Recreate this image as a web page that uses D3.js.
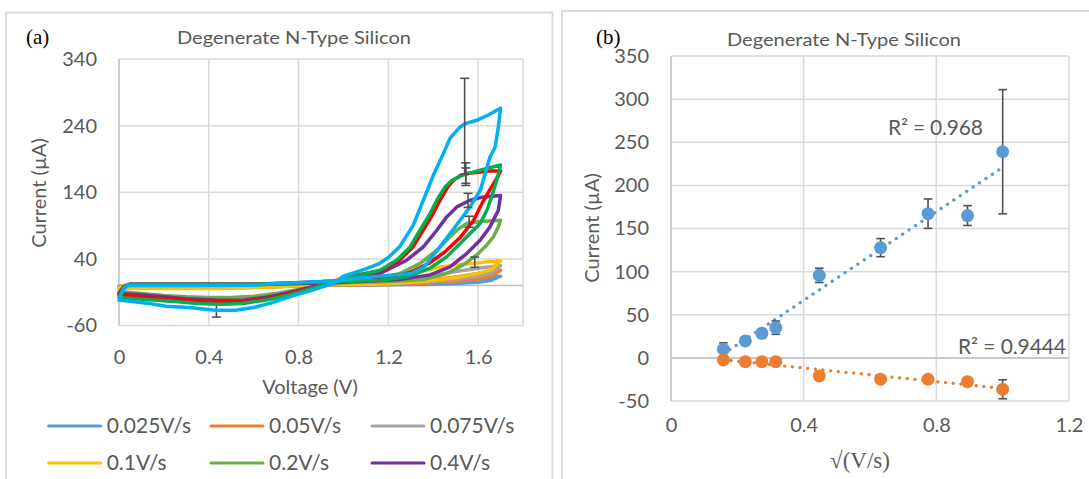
<!DOCTYPE html>
<html>
<head>
<meta charset="utf-8">
<script src="https://cdn.jsdelivr.net/npm/d3@7"></script>
<style>
  body { margin: 0; background: #fff; }
  svg { display: block; }
  text { font-family: Lato, "Open Sans", "Noto Sans", sans-serif; }
</style>
</head>
<body>
<svg id="chart" width="1089" height="479"></svg>
<script>
// ---------- data ----------
const scanRates = ["0.025V/s", "0.05V/s", "0.075V/s", "0.1V/s", "0.2V/s", "0.4V/s", "0.6V/s", "0.8V/s", "1V/s"];
const sqrtRate = [0.158, 0.224, 0.274, 0.316, 0.447, 0.632, 0.775, 0.894, 1.0];
const oxPeak = [10, 19.6, 28.5, 35, 95.7, 127.8, 167.2, 165, 239];
const oxErr = [7.5, 4, 5, 7.7, 8.3, 10.5, 17, 11.5, 72];
const redPeak = [-2.4, -4.4, -4.4, -4.4, -21, -24.8, -24.8, -27.6, -36.4];
const redErr = [1, 1, 1, 1.5, 2, 2, 2, 2, 11];
const oxPeakVoltage = [1.6, 1.6, 1.59, 1.585, 1.56, 1.555, 1.545, 1.545, 1.54];
const redPeakVoltage = 0.434;
const oxR2 = "R\u00B2 = 0.968";
const redR2 = "R\u00B2 = 0.9444";

const voltageTicks = [0, 0.4, 0.8, 1.2, 1.6];
const currentTicksA = [-60, 40, 140, 240, 340];
const rateTicks = [0, 0.4, 0.8, 1.2];
const currentTicksB = [-50, 0, 50, 100, 150, 200, 250, 300, 350];

// cyclic voltammograms: [voltage V, current uA], forward sweep then reverse sweep
const cv0025 = [[0,-1],[0.03,0],[0.6,0],[0.9,0.5],[1.1,0.5],[1.2,1],[1.3,1.5],[1.4,2],[1.5,3],[1.6,5],[1.66,8],[1.7,14],
  [1.65,12],[1.6,10.5],[1.5,7],[1.4,4.5],[1.3,3],[1.2,2],[1.1,1.5],[1.0,1],[0.9,0],[0.7,-0.5],[0.4,-1],[0.1,-1],[0,-1]];
const cv005 = [[0,-2],[0.03,0],[0.6,0],[0.9,0.5],[1.1,1],[1.2,1.5],[1.3,2.5],[1.4,4],[1.5,6],[1.6,10],[1.66,14],[1.7,23],
  [1.65,20],[1.6,18],[1.5,13],[1.4,9],[1.3,6],[1.2,4],[1.1,2.5],[1.0,1.5],[0.9,0],[0.7,-1.5],[0.45,-3],[0.2,-2.5],[0,-2]];
const cv0075 = [[0,-3],[0.03,0],[0.6,0],[0.9,1],[1.1,1.5],[1.2,2.5],[1.3,4],[1.4,6],[1.5,9],[1.6,14],[1.66,19],[1.7,30],
  [1.65,28],[1.6,26],[1.5,21],[1.4,15],[1.3,10],[1.2,6],[1.1,4],[1.0,2],[0.9,0.5],[0.7,-2],[0.45,-4],[0.2,-3.5],[0,-3]];
const cv01 = [[0,-4],[0.02,0],[0.6,0],[0.9,1],[1.1,2],[1.2,3],[1.3,5],[1.4,8],[1.5,12],[1.6,18],[1.66,24],[1.7,37],
  [1.65,36],[1.6,34],[1.5,31],[1.42,27],[1.35,21],[1.3,16],[1.2,9],[1.1,6],[1.0,3],[0.9,1],[0.7,-2],[0.45,-4.5],[0.2,-4.5],[0,-4]];
const cv02 = [[0,-9],[0.02,-2],[0.05,1],[0.6,1],[0.8,3],[1.0,5],[1.2,6],[1.356,9],[1.46,18],[1.534,31],[1.594,46],[1.639,61],[1.668,73],[1.69,88],[1.7,98],
  [1.609,96],[1.549,93],[1.505,83],[1.46,68],[1.416,53],[1.341,33],[1.252,18],[1.15,10],[1.0,4],[0.9,0],[0.8,-6],[0.7,-12],[0.6,-16],[0.5,-18],[0.4,-18],[0.3,-17],[0.2,-15],[0.1,-12],[0,-9]];
const cv04 = [[0,-12],[0.02,-2],[0.05,2],[0.6,2],[0.8,3],[1.0,5],[1.15,7],[1.252,9],[1.386,16],[1.475,28],[1.549,48],[1.609,68],[1.653,88],[1.69,113],[1.7,135],
  [1.624,133],[1.564,128],[1.505,118],[1.46,103],[1.416,83],[1.356,58],[1.282,38],[1.163,18],[1.05,10],[0.95,4],[0.85,-3],[0.75,-11],[0.65,-18],[0.55,-22],[0.45,-22],[0.3,-20],[0.2,-17],[0.1,-14],[0,-12]];
const cv06 = [[0,-14],[0.02,-2],[0.05,2],[0.6,2],[0.8,4],[1.0,7],[1.15,11],[1.25,15],[1.3,20],[1.38,33],[1.45,50],[1.52,72],[1.58,98],[1.62,125],[1.66,148],[1.69,165],[1.7,172],
  [1.65,172],[1.6,170],[1.55,168],[1.52,165],[1.49,158],[1.465,148],[1.43,128],[1.4,108],[1.355,83],[1.31,58],[1.25,38],[1.175,23],[1.05,15],[0.95,6],[0.85,-4],[0.75,-13],[0.65,-20],[0.55,-24],[0.45,-24],[0.3,-22],[0.2,-20],[0.1,-17],[0,-14]];
const cv08 = [[0,-18],[0.02,-3],[0.05,2],[0.6,2],[0.8,4],[1.0,6],[1.163,8],[1.282,13],[1.386,26],[1.46,43],[1.52,63],[1.564,78],[1.609,93],[1.639,113],[1.66,133],[1.683,158],[1.7,181],
  [1.609,173],[1.534,166],[1.483,158],[1.453,148],[1.416,128],[1.386,108],[1.341,83],[1.297,58],[1.237,38],[1.163,23],[1.05,14],[0.95,5],[0.85,-5],[0.75,-15],[0.65,-22],[0.55,-27],[0.45,-28],[0.35,-27],[0.25,-24],[0.12,-21],[0,-18]];
const cv10 = [[0,-22],[0.02,-5],[0.04,0],[0.3,0],[0.6,0.5],[0.7,3],[0.9,6],[1.0,9],[1.1,12],[1.2,15],[1.3,18],[1.36,28],[1.43,58],[1.475,78],[1.52,98],[1.564,118],[1.61,143],[1.64,178],[1.653,193],[1.676,208],[1.69,238],[1.7,266],
  [1.645,256],[1.594,248],[1.542,243],[1.52,238],[1.475,221],[1.445,198],[1.40,165],[1.356,128],[1.31,90],[1.25,58],[1.2,42],[1.16,33],[1.1,25],[1.0,14],[0.96,4],[0.87,-6],[0.77,-16],[0.68,-26],[0.6,-33],[0.52,-37],[0.43,-37],[0.31,-33],[0.21,-31],[0.135,-27],[0.03,-23],[0,-22]];

const cvCurves = [cv0025, cv005, cv0075, cv01, cv02, cv04, cv06, cv08, cv10];

// ---------- styling ----------
const seriesColors = ["#5B9BD5", "#ED7D31", "#A5A5A5", "#FFC000", "#70AD47", "#7030A0", "#FF0000", "#00B050", "#00B0F0"];
const textGray = "#595959";
const gridColor = "#d9d9d9";
const axisColor = "#bfbfbf";
const oxColor = "#5B9BD5";
const redColor = "#ED7D31";
const errColor = "#505050";

// integer labels with an ASCII hyphen for negatives
const intLabel = d => String(Math.round(d));
const decLabel = d => d === 0 ? "0" : d3.format(".1f")(d);

const svg = d3.select("#chart");

// panel frames
svg.append("rect").attr("x", 6).attr("y", 12.5).attr("width", 546.5).attr("height", 520)
  .attr("fill", "none").attr("stroke", gridColor).attr("stroke-width", 1.8);
svg.append("rect").attr("x", 562).attr("y", 11).attr("width", 560).attr("height", 520)
  .attr("fill", "none").attr("stroke", gridColor).attr("stroke-width", 1.8);

// ================= panel (a) =================
const xA = d3.scaleLinear().domain([0, 1.8]).range([119, 523]);
const yA = d3.scaleLinear().domain([-60, 340]).range([325.5, 59]);
const gA = svg.append("g");

// gridlines
gA.selectAll(".vgrid").data(voltageTicks.slice(1).concat([1.8])).join("line")
  .attr("x1", d => xA(d)).attr("x2", d => xA(d)).attr("y1", yA(-60)).attr("y2", yA(340))
  .attr("stroke", gridColor).attr("stroke-width", 1.5);
gA.selectAll(".hgrid").data(currentTicksA).join("line")
  .attr("x1", xA(0)).attr("x2", xA(1.8)).attr("y1", d => yA(d)).attr("y2", d => yA(d))
  .attr("stroke", gridColor).attr("stroke-width", 1.5);
// axis lines
gA.append("line").attr("x1", xA(0)).attr("x2", xA(0)).attr("y1", yA(-60)).attr("y2", yA(340))
  .attr("stroke", axisColor).attr("stroke-width", 1.5);
gA.append("line").attr("x1", xA(0)).attr("x2", xA(1.8)).attr("y1", yA(0)).attr("y2", yA(0))
  .attr("stroke", axisColor).attr("stroke-width", 1.5);

// tick labels
function styleAxis(g) {
  g.select(".domain").remove();
  g.selectAll("text").attr("fill", textGray).style("font-size", "20px");
}
gA.append("g").attr("transform", `translate(${xA(0)},0)`)
  .call(d3.axisLeft(yA).tickValues(currentTicksA).tickSize(0).tickPadding(22).tickFormat(intLabel))
  .call(styleAxis);
gA.append("g").attr("transform", `translate(0,${yA(-60)})`)
  .call(d3.axisBottom(xA).tickValues(voltageTicks).tickSize(0).tickPadding(24).tickFormat(decLabel))
  .call(styleAxis);

// reduction error bar (1 V/s) sits beneath the curves
function errorBar(g, x, yc, e, scaleY, cap) {
  g.append("line").attr("x1", x).attr("x2", x).attr("y1", scaleY(yc - e)).attr("y2", scaleY(yc + e))
    .attr("stroke", errColor).attr("stroke-width", 1.6);
  [yc - e, yc + e].forEach(v => g.append("line").attr("x1", x - cap).attr("x2", x + cap)
    .attr("y1", scaleY(v)).attr("y2", scaleY(v)).attr("stroke", errColor).attr("stroke-width", 1.6));
}
errorBar(gA, xA(redPeakVoltage), redPeak[8], redErr[8], yA, 4.5);

// voltammograms
const cvLine = d3.line().x(d => xA(d[0])).y(d => yA(d[1]));
gA.selectAll(".cv").data(cvCurves).join("path")
  .attr("d", cvLine)
  .attr("fill", "none")
  .attr("stroke", (d, i) => seriesColors[i])
  .attr("stroke-width", 3.5)
  .attr("stroke-linejoin", "round")
  .attr("stroke-linecap", "round");

// oxidation peak error bars for the faster scans
oxPeak.forEach((p, i) => {
  if (i >= 3) errorBar(gA, xA(oxPeakVoltage[i]), p, oxErr[i], yA, 4.5);
});

// titles
svg.append("text").attr("x", 294).attr("y", 38).attr("dy", "0.35em").attr("text-anchor", "middle")
  .attr("fill", textGray).style("font-size", "17px").attr("textLength", 234).attr("lengthAdjust", "spacingAndGlyphs")
  .text("Degenerate N-Type Silicon");
svg.append("text").attr("x", 26).attr("y", 37).attr("dy", "0.35em")
  .style("font-family", "'Liberation Serif', 'Times New Roman', serif").style("font-size", "21px").attr("fill", "#000")
  .text("(a)");
svg.append("text").attr("x", 310).attr("y", 386.5).attr("dy", "0.35em").attr("text-anchor", "middle")
  .attr("fill", textGray).style("font-size", "20px").text("Voltage (V)");
svg.append("text").attr("transform", "translate(38.5,193) rotate(-90)").attr("dy", "0.35em").attr("text-anchor", "middle")
  .attr("fill", textGray).style("font-size", "20px").text("Current (\u00B5A)");

// legend (first six scan rates)
const legendCols = [48.7, 211, 372];
const legendRows = [426, 463];
scanRates.slice(0, 6).forEach((name, i) => {
  const lx = legendCols[i % 3], ly = legendRows[Math.floor(i / 3)];
  svg.append("line").attr("x1", lx).attr("x2", lx + 52).attr("y1", ly).attr("y2", ly)
    .attr("stroke", seriesColors[i]).attr("stroke-width", 3).attr("stroke-linecap", "round");
  svg.append("text").attr("x", lx + 58).attr("y", ly).attr("dy", "0.35em")
    .attr("fill", textGray).style("font-size", "21px").text(name);
});

// ================= panel (b) =================
const xB = d3.scaleLinear().domain([0, 1.2]).range([671, 1069]);
const yB = d3.scaleLinear().domain([-50, 350]).range([401, 56]);
const gB = svg.append("g");

gB.selectAll(".vgrid").data(rateTicks.slice(1)).join("line")
  .attr("x1", d => xB(d)).attr("x2", d => xB(d)).attr("y1", yB(-50)).attr("y2", yB(350))
  .attr("stroke", gridColor).attr("stroke-width", 1.5);
gB.selectAll(".hgrid").data(currentTicksB).join("line")
  .attr("x1", xB(0)).attr("x2", xB(1.2)).attr("y1", d => yB(d)).attr("y2", d => yB(d))
  .attr("stroke", gridColor).attr("stroke-width", 1.5);
gB.append("line").attr("x1", xB(0)).attr("x2", xB(0)).attr("y1", yB(-50)).attr("y2", yB(350))
  .attr("stroke", axisColor).attr("stroke-width", 1.5);
gB.append("line").attr("x1", xB(0)).attr("x2", xB(1.2)).attr("y1", yB(0)).attr("y2", yB(0))
  .attr("stroke", axisColor).attr("stroke-width", 1.5);

gB.append("g").attr("transform", `translate(${xB(0)},0)`)
  .call(d3.axisLeft(yB).tickValues(currentTicksB).tickSize(0).tickPadding(22).tickFormat(intLabel))
  .call(styleAxis);
gB.append("g").attr("transform", `translate(0,${yB(-50)})`)
  .call(d3.axisBottom(xB).tickValues(rateTicks).tickSize(0).tickPadding(17).tickFormat(decLabel))
  .call(styleAxis);

// least-squares trend lines
function linearFit(xs, ys) {
  const mx = d3.mean(xs), my = d3.mean(ys);
  const sxy = d3.sum(xs, (x, i) => (x - mx) * (ys[i] - my));
  const sxx = d3.sum(xs, x => (x - mx) * (x - mx));
  const m = sxy / sxx;
  return { m, b: my - m * mx };
}
function trend(xs, ys, color) {
  const f = linearFit(xs, ys);
  const x0 = d3.min(xs), x1 = d3.max(xs);
  gB.append("line").attr("x1", xB(x0)).attr("y1", yB(f.m * x0 + f.b))
    .attr("x2", xB(x1)).attr("y2", yB(f.m * x1 + f.b))
    .attr("stroke", color).attr("stroke-width", 3.3).attr("stroke-linecap", "round")
    .attr("stroke-dasharray", "0.1 7.6");
}
trend(sqrtRate, oxPeak, oxColor);
trend(sqrtRate, redPeak, redColor);

// error bars then markers
sqrtRate.forEach((x, i) => {
  errorBar(gB, xB(x), oxPeak[i], oxErr[i], yB, 4.3);
  errorBar(gB, xB(x), redPeak[i], redErr[i], yB, 4.3);
});
gB.selectAll(".ox").data(sqrtRate).join("circle")
  .attr("cx", d => xB(d)).attr("cy", (d, i) => yB(oxPeak[i])).attr("r", 6.5).attr("fill", oxColor);
gB.selectAll(".red").data(sqrtRate).join("circle")
  .attr("cx", d => xB(d)).attr("cy", (d, i) => yB(redPeak[i])).attr("r", 6.5).attr("fill", redColor);

// R-squared labels
svg.append("text").attr("x", 888).attr("y", 128).attr("dy", "0.35em").attr("fill", textGray)
  .style("font-size", "21px").attr("textLength", 95).attr("lengthAdjust", "spacing").text(oxR2);
svg.append("text").attr("x", 958).attr("y", 347).attr("dy", "0.35em").attr("fill", textGray)
  .style("font-size", "21px").attr("textLength", 108).attr("lengthAdjust", "spacing").text(redR2);

// titles
svg.append("text").attr("x", 844).attr("y", 40).attr("dy", "0.35em").attr("text-anchor", "middle")
  .attr("fill", textGray).style("font-size", "17px").attr("textLength", 234).attr("lengthAdjust", "spacingAndGlyphs")
  .text("Degenerate N-Type Silicon");
svg.append("text").attr("x", 596).attr("y", 37).attr("dy", "0.35em")
  .style("font-family", "'Liberation Serif', 'Times New Roman', serif").style("font-size", "21px").attr("fill", "#000")
  .text("(b)");
svg.append("text").attr("x", 860).attr("y", 460).attr("dy", "0.35em").attr("text-anchor", "middle")
  .style("font-family", "'Liberation Serif', 'DejaVu Serif', serif").style("font-size", "23px").attr("fill", textGray)
  .text("\u221A(V/s)");
svg.append("text").attr("transform", "translate(592,228) rotate(-90)").attr("dy", "0.35em").attr("text-anchor", "middle")
  .attr("fill", textGray).style("font-size", "20px").text("Current (\u00B5A)");
</script>
</body>
</html>
